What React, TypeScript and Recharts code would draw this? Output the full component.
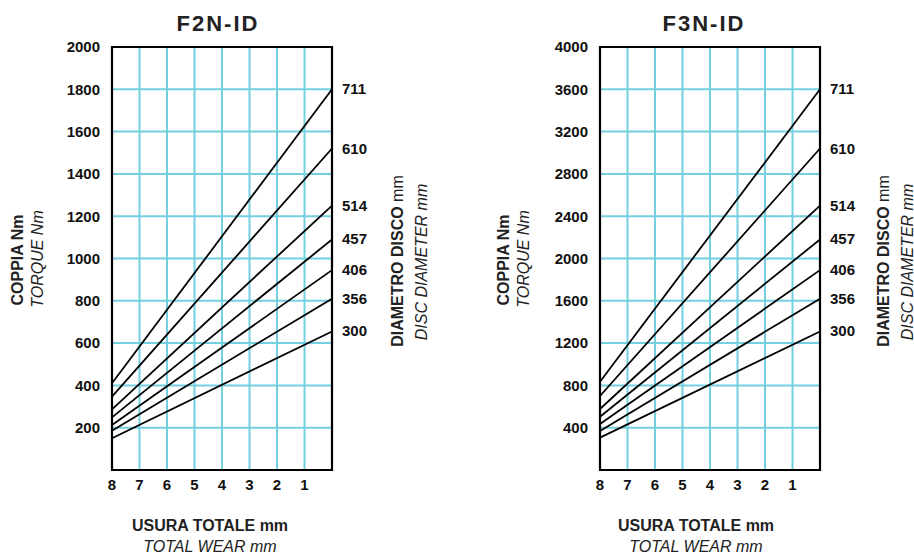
import React from 'react';
import { LineChart, Line, XAxis, YAxis, CartesianGrid, ReferenceArea } from 'recharts';

const wear = [8, 0];
const xTicks = [8, 7, 6, 5, 4, 3, 2, 1];
const diameters = ['711', '610', '514', '457', '406', '356', '300'];

const f2nTicks = [200, 400, 600, 800, 1000, 1200, 1400, 1600, 1800, 2000];
const f2n711 = [410, 1800];
const f2n610 = [347, 1520];
const f2n514 = [287, 1250];
const f2n457 = [249, 1090];
const f2n406 = [213, 945];
const f2n356 = [186, 810];
const f2n300 = [150, 655];

const f3nTicks = [400, 800, 1200, 1600, 2000, 2400, 2800, 3200, 3600, 4000];
const f3n711 = [835, 3600];
const f3n610 = [700, 3040];
const f3n514 = [577, 2500];
const f3n457 = [504, 2180];
const f3n406 = [435, 1890];
const f3n356 = [369, 1620];
const f3n300 = [306, 1310];

const FONT = '"Liberation Sans", Arial, Helvetica, sans-serif';
const GRID = '#74cfe0';

function buildRows(series: number[][]) {
  return wear.map((w, i) => {
    const row: Record<string, number> = { wear: w };
    diameters.forEach((d, k) => {
      row['d' + d] = series[k][i];
    });
    return row;
  });
}

const f2nRows = buildRows([f2n711, f2n610, f2n514, f2n457, f2n406, f2n356, f2n300]);
const f3nRows = buildRows([f3n711, f3n610, f3n514, f3n457, f3n406, f3n356, f3n300]);

function endLabel(p: any, name: string) {
  if (p.index !== wear.length - 1) return null;
  return (
    <text
      key={name}
      x={p.x + 10}
      y={p.y}
      dy={5}
      textAnchor="start"
      fontSize={15}
      fontWeight="bold"
      fontFamily={FONT}
      fill="#111"
    >
      {name}
    </text>
  );
}

function Panel({ left, rows, yMax, yTicks }: { left: number; rows: any[]; yMax: number; yTicks: number[] }) {
  return (
    <div style={{ position: 'absolute', left, top: 0 }}>
      <LineChart
        width={426}
        height={555}
        data={rows}
        margin={{ top: 47, right: 94, bottom: 55, left: 0 }}
        style={{ fontFamily: FONT }}
      >
        <CartesianGrid stroke={GRID} strokeWidth={2} />
        <XAxis
          type="number"
          dataKey="wear"
          domain={[0, 8]}
          reversed
          ticks={xTicks}
          tickLine={false}
          axisLine={false}
          height={30}
          tickMargin={3}
          interval={0}
          tick={{ fill: '#111', fontSize: 15, fontWeight: 'bold', fontFamily: FONT }}
        />
        <YAxis
          type="number"
          domain={[0, yMax]}
          ticks={yTicks}
          tickLine={false}
          axisLine={false}
          width={112}
          tickMargin={6}
          interval={0}
          tick={{ fill: '#111', fontSize: 15, fontWeight: 'bold', fontFamily: FONT }}
        />
        {diameters.map((d) => (
          <Line
            key={d}
            dataKey={'d' + d}
            stroke="#000"
            strokeWidth={1.8}
            dot={false}
            isAnimationActive={false}
            label={(p: any) => endLabel(p, d)}
          />
        ))}
        <ReferenceArea x1={8} x2={0} y1={0} y2={yMax} fill="none" stroke="#000" strokeWidth={2.2} />
      </LineChart>
    </div>
  );
}

function Texts({ dx, title }: { dx: number; title: string }) {
  const tc = '#222';
  return (
    <g fontFamily={FONT} fill={tc}>
      <text x={218 + dx} y={31} textAnchor="middle" fontSize={22} fontWeight="bold" letterSpacing={2}>
        {title}
      </text>
      <text
        x={17 + dx}
        y={260}
        transform={`rotate(-90, ${17 + dx}, 260)`}
        textAnchor="middle"
        dominantBaseline="central"
        fontSize={16}
        fontWeight="bold"
      >
        COPPIA Nm
      </text>
      <text
        x={37 + dx}
        y={259}
        transform={`rotate(-90, ${37 + dx}, 259)`}
        textAnchor="middle"
        dominantBaseline="central"
        fontSize={16}
        fontStyle="italic"
      >
        TORQUE Nm
      </text>
      <text
        x={397 + dx}
        y={261}
        transform={`rotate(-90, ${397 + dx}, 261)`}
        textAnchor="middle"
        dominantBaseline="central"
        fontSize={16}
        fontWeight="bold"
      >
        DIAMETRO DISCO <tspan fontWeight="normal">mm</tspan>
      </text>
      <text
        x={421 + dx}
        y={262}
        transform={`rotate(-90, ${421 + dx}, 262)`}
        textAnchor="middle"
        dominantBaseline="central"
        fontSize={16}
        fontStyle="italic"
      >
        DISC DIAMETER mm
      </text>
      <text x={210 + dx} y={531} textAnchor="middle" fontSize={16} fontWeight="bold">
        USURA TOTALE mm
      </text>
      <text x={210 + dx} y={552} textAnchor="middle" fontSize={16} fontStyle="italic">
        TOTAL WEAR mm
      </text>
    </g>
  );
}

export default function App() {
  return (
    <div
      style={{
        position: 'absolute',
        left: 0,
        top: 0,
        width: 914,
        height: 555,
        overflow: 'hidden',
        background: '#fff',
      }}
    >
      <Panel left={0} rows={f2nRows} yMax={2000} yTicks={f2nTicks} />
      <Panel left={488} rows={f3nRows} yMax={4000} yTicks={f3nTicks} />
      <svg width={914} height={555} style={{ position: 'absolute', left: 0, top: 0, pointerEvents: 'none' }}>
        <Texts dx={0} title="F2N-ID" />
        <Texts dx={486} title="F3N-ID" />
      </svg>
    </div>
  );
}
